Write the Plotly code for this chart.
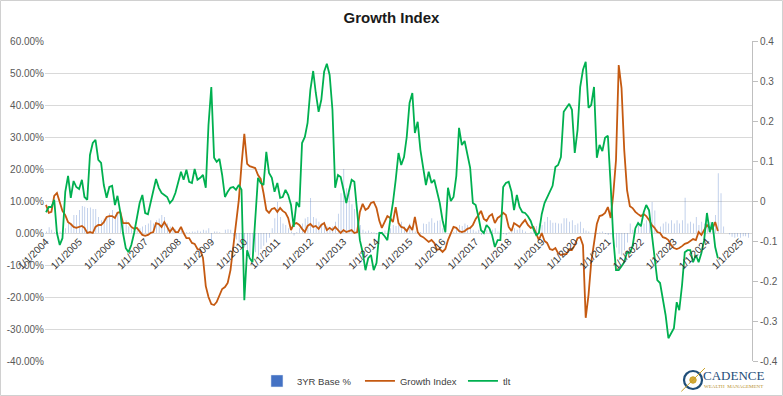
import plotly.graph_objects as go
import pandas as pd

# ---------------- data ----------------
start_month = "2004-01-01"

# 3YR Base % (monthly, percent)
base_3yr = [
    0.5, 1.8, 1.0, 0.3, 0.2, 0.5, 0.8, 1.5, 3.2, 2.5, 5.6, 5.6,
    7.2, 8.4, 8.2, 7.8, 8.0, 7.5, 7.5, 5.0, 4.0, 4.5, 5.0, 6.2,
    7.2, 5.6, 6.2, 5.0, 3.0, 4.0, 2.0, 1.5, 1.0, 0.8, 1.5, 2.0,
    2.5, 3.0, 4.0, 3.0, 4.0, 4.5, 5.6, 5.0, 3.0, 2.0, 1.5, 1.2,
    1.0, 0.8, 0.5, 0.3, 0.2, 0.5, 0.4, 0.8, 0.5, 1.0, 0.8, 1.5,
    -2.2, 0.5, 0.5, 0.2, 0.0, 1.0, 1.2, 1.0, -1.0, -2.0, -3.0, -4.0,
    -4.5, -5.5, -7.0, -7.5, -6.0, -7.0, -5.0, -4.0, -3.0, -1.5, 1.5, 4.6,
    9.7, 5.0, 3.0, 2.5, 1.5, 0.5, -0.8, 0.3, 1.5, 3.0, 4.5, 5.0,
    10.9, 5.0, 4.5, 3.5, 3.0, 3.5, 2.0, 1.5, 2.0, 3.5, 6.0, 12.4,
    20.0, 14.0, 12.5, 9.0, 7.5, 4.0, 2.5, 1.0, 0.5, 0.8, 0.3, 0.2,
    -0.5, 0.5, 0.5, 0.8, -2.0, 1.5, 2.5, 2.2, 2.5, 3.5, 2.0, 1.5,
    3.0, 2.0, 0.5, 0.2, 0.3, 3.0, 2.8, 3.5, 4.6, 3.2, 3.8, 4.0,
    1.5, 0.5, 0.0, 0.2, 0.4, 1.1, 2.5, 2.2, 3.0, 2.5, 1.5, 1.0,
    0.5, 1.0, -0.6, 0.3, 1.0, 1.5, 1.0, 1.5, 0.5, 0.1, -0.3, -0.6,
    0.3, 1.0, 1.5, 1.0, 1.8, 1.0, 0.5, 0.0, 0.3, 1.0, 2.2, 3.0,
    2.5, 3.5, 5.0, 4.0, 3.2, 3.2, 3.0, 3.0, 4.6, 4.6, 3.5, 4.0,
    2.5, 3.0, 3.5, 1.5, 0.8, 0.5, 0.0, -0.3, -0.3, 0.2, 0.5, -0.3,
    -0.6, -0.5, -2.0, -4.5, -6.5, -7.0, -5.5, -3.0, 3.0, 1.0, 2.0, 3.5,
    2.5, 3.0, 4.0, 5.0, 9.7, 7.0, 1.0, 2.0, 3.0, 3.5, 3.0, 4.0,
    3.0, 4.0, 3.0, 4.0, 11.0, 3.0, 3.5, 3.0, 5.0, 2.5, 3.5, 3.0,
    2.0, 3.5, 1.0, 5.6, 18.7, 12.4, 2.0, 0.0, -0.5, -1.2, -1.5, -1.2,
    -1.5, -1.0, -1.0, -1.5,
]

# Growth Index (monthly, percent, left axis)
growth_index = [
    8.8, 6.3, 6.6, 11.6, 12.5, 9.7, 6.9, 5.6, 3.4, 2.8, 1.9, 1.6,
    1.9, 2.2, 1.6, 0.0, 0.3, 0.0, 1.9, 2.5, 2.5, 3.4, 5.0, 5.3,
    5.3, 4.7, 6.3, 6.6, 3.1, 3.1, 3.1, 1.9, 1.3, 1.6, 0.6, -0.6,
    -0.9, -0.6, 0.0, 0.3, 3.1, 2.8, 1.9, 3.4, 1.9, 0.3, 1.6, 0.3,
    0.3, 1.9, 0.0, -1.6, -1.6, -3.1, -3.4, -5.0, -5.3, -7.8, -16.6, -20.0,
    -22.2, -22.5, -21.6, -19.4, -17.5, -16.9, -15.6, -11.6, -4.7, 3.1, 10.3, 21.3,
    31.0, 21.6, 20.9, 20.6, 20.3, 18.1, 16.9, 12.5, 7.2, 6.3, 7.5, 7.8,
    6.6, 7.8, 6.9, 6.3, 4.7, 0.9, 2.8, 3.1, 2.5, 1.3, 0.3, 2.2,
    2.8, 1.9, 2.2, 1.3, 2.5, 3.1, 0.9, 1.6, 0.9, 1.9, 0.9, 0.0,
    0.9, 0.3, 0.6, 0.9, 0.0, 0.3, 6.6, 9.1, 7.2, 7.8, 9.4, 9.7,
    7.8, 3.8, 1.6, 3.4, 5.3, 4.7, 3.4, 8.1, 3.1, 1.9, 1.6, 0.6,
    2.2, 0.9, 5.0, 0.3, -0.9, -1.3, -1.9, -2.8, -2.2, -3.1, -5.3, -5.0,
    -5.9, -5.0, -2.2, 0.0, 1.9, 1.6, 0.6, 0.3, 0.6, 1.3, 1.6, 2.5,
    4.4, 5.6, 6.9, 4.4, 3.8, 5.3, 5.9, 3.1, 4.7, 5.3, 6.3, 5.6,
    1.9, 0.6, 3.1, 2.5, 1.9, 3.1, 4.1, 2.5, 1.6, 1.9, -0.3, -2.2,
    0.0, -2.5, -3.1, -5.0, -5.3, -4.7, -6.3, -6.9, -6.6, -6.6, -5.0, -5.3,
    -3.8, -1.6, -1.3, -3.8, -26.5, -19.4, -9.1, -3.1, 2.8, 5.3, 5.6, 6.3,
    8.1, 4.7, 11.9, 22.8, 52.5, 45.3, 25.9, 13.4, 8.4, 7.8, 6.6, 5.9,
    5.3, 5.9, 5.3, 4.1, 2.5, 1.6, 0.3, 0.0, -1.3, -1.6, -2.2, -3.8,
    -4.7, -5.0, -4.7, -4.1, -3.4, -3.1, -2.5, -1.9, -2.2, 0.3, -0.6, 0.9,
    2.5, 1.6, 1.3, 3.4, 0.6,
]

# tlt (monthly, right axis)
tlt = [
    -0.028, -0.015, -0.015, 0.003, -0.080, -0.110, -0.093, 0.023, 0.063, 0.008, 0.050, 0.035,
    0.030, 0.053, 0.010, 0.003, 0.115, 0.145, 0.153, 0.103, 0.095, 0.040, 0.008, 0.035,
    0.038, -0.010, 0.013, -0.028, -0.080, -0.118, -0.128, -0.110, -0.080, -0.040, -0.005, 0.015,
    -0.030, -0.033, -0.005, 0.023, 0.055, 0.033, 0.020, 0.015, 0.010, -0.005, 0.003, 0.020,
    0.045, 0.073, 0.053, 0.078, 0.048, 0.045, 0.080, 0.053, 0.058, 0.065, 0.033, 0.190,
    0.285, 0.108, 0.098, 0.105, 0.065, 0.010, 0.023, 0.033, 0.035, 0.028, 0.040, 0.028,
    -0.248, -0.123, -0.143, -0.153, -0.048, 0.058, 0.045, 0.040, 0.123, 0.070, 0.058, 0.023,
    0.045, 0.008, 0.010, 0.028, 0.015, -0.010, -0.065, -0.003, -0.015, 0.145, 0.160, 0.195,
    0.278, 0.325, 0.270, 0.223, 0.253, 0.323, 0.343, 0.315, 0.228, 0.033, 0.065, 0.060,
    0.028, -0.005, 0.023, 0.053, 0.048, -0.035, -0.098, -0.128, -0.173, -0.143, -0.135, -0.173,
    -0.155, -0.080, -0.080, -0.088, -0.098, -0.048, -0.005, 0.053, 0.120, 0.090, 0.110, 0.160,
    0.245, 0.270, 0.170, 0.198, 0.128, 0.083, 0.040, 0.073, 0.045, 0.053, 0.020, -0.005,
    -0.048, -0.078, 0.033, 0.000, 0.010, 0.063, 0.183, 0.140, 0.150, 0.115, 0.083, -0.005,
    -0.010, -0.040, -0.073, -0.080, -0.060, -0.068, -0.085, -0.115, -0.098, -0.098, 0.035, 0.045,
    0.048, 0.023, -0.023, 0.015, -0.015, -0.028, -0.030, -0.038, -0.050, -0.070, -0.085, -0.080,
    -0.033, -0.005, 0.010, 0.023, 0.038, 0.085, 0.090, 0.110, 0.223, 0.233, 0.243, 0.228,
    0.120, 0.178, 0.285, 0.328, 0.348, 0.233, 0.240, 0.285, 0.108, 0.140, 0.125, 0.158,
    0.163, 0.040, -0.090, -0.173, -0.173, -0.163, -0.153, -0.128, -0.130, -0.113, -0.068, -0.055,
    -0.063, -0.028, -0.010, -0.023, -0.080, -0.143, -0.198, -0.205, -0.248, -0.285, -0.343, -0.330,
    -0.318, -0.253, -0.273, -0.210, -0.128, -0.123, -0.123, -0.153, -0.135, -0.153, -0.130, -0.098,
    -0.030, -0.078, -0.053, -0.115, -0.143,
]

left_ticks = [-40, -30, -20, -10, 0, 10, 20, 30, 40, 50, 60]
left_labels = ["-40.00%", "-30.00%", "-20.00%", "-10.00%", "0.00%", "10.00%",
               "20.00%", "30.00%", "40.00%", "50.00%", "60.00%"]
right_ticks = [-0.4, -0.3, -0.2, -0.1, 0, 0.1, 0.2, 0.3, 0.4]
right_labels = ["-0.4", "-0.3", "-0.2", "-0.1", "0", "0.1", "0.2", "0.3", "0.4"]

# ---------------- figure ----------------
dates = pd.date_range(start_month, periods=len(base_3yr), freq="MS")
line_dates = dates[:len(growth_index)]

BLUE = "#4472C4"
ORANGE = "#C55A11"
GREEN = "#00B050"

fig = go.Figure()
# legend swatch for bars (solid colour, like the reference legend)
fig.add_trace(go.Bar(x=[dates[0]], y=[None], name="3YR Base %",
                     marker_color=BLUE, yaxis="y", hoverinfo="skip"))
fig.add_trace(go.Bar(x=dates, y=base_3yr, name="3YR Base %",
                     marker=dict(color="rgba(68,114,196,0.5)", line=dict(width=0)),
                     showlegend=False, yaxis="y"))
fig.add_trace(go.Scatter(x=line_dates, y=growth_index, name="Growth Index",
                         mode="lines", line=dict(color=ORANGE, width=1.8), yaxis="y"))
fig.add_trace(go.Scatter(x=line_dates, y=tlt, name="tlt",
                         mode="lines", line=dict(color=GREEN, width=1.8), yaxis="y2"))

FONT = "Liberation Sans, Arial, sans-serif"

fig.update_layout(
    width=783, height=396,
    margin=dict(l=45, r=31, t=41, b=35, autoexpand=False),
    paper_bgcolor="white", plot_bgcolor="white",
    font=dict(family=FONT, size=10, color="#595959"),
    title=dict(text="<b>Growth Index</b>", x=0.5, xref="container", xanchor="center",
               y=0.955, yref="container", yanchor="middle",
               font=dict(family=FONT, size=15, color="#1a1a1a")),
    bargap=0.5,
    showlegend=True,
    legend=dict(orientation="h", x=0.5255, xref="container", xanchor="center",
                y=0.038, yref="container", yanchor="middle",
                font=dict(family=FONT, size=9.5, color="#404040"),
                traceorder="normal", itemwidth=30,
                entrywidth=58, entrywidthmode="pixels",
                tracegroupgap=0),
    xaxis=dict(type="date", range=["2003-12-21", "2025-05-13"],
               tick0="2004-01-01", dtick="M12", tickformat="%-m/%-d/%Y",
               tickangle=-45, anchor="free", position=0.4, automargin=False,
               showgrid=False, showline=False, zeroline=False, ticks="",
               tickfont=dict(family=FONT, size=10, color="#333333")),
    yaxis=dict(range=[-40, 60], tickvals=left_ticks, ticktext=left_labels,
               showgrid=True, gridcolor="#d9d9d9", gridwidth=1.3, automargin=False,
               zeroline=False, showline=False, ticks="", domain=[0, 1],
               tickfont=dict(family=FONT, size=10, color="#595959")),
    yaxis2=dict(overlaying="y", side="right", range=[-0.4, 0.4],
                tickvals=right_ticks, ticktext=right_labels, automargin=False,
                showgrid=False, zeroline=False, showline=True, linecolor="#bfbfbf",
                ticks="outside", ticklen=5, tickcolor="#bfbfbf",
                tickfont=dict(family=FONT, size=10, color="#595959")),
)

# outer chart border
fig.add_shape(type="rect", xref="paper", yref="paper",
              x0=-0.0629, x1=1.0431, y0=-0.1078, y1=1.1266,
              line=dict(color="#d0d0d0", width=1), fillcolor="rgba(0,0,0,0)", layer="below")

# logo: compass circle
fig.add_shape(type="circle", xref="paper", yref="paper",
              x0=0.9038, x1=0.9293, y0=-0.0875, y1=-0.0313,
              line=dict(color="#1f4e79", width=2.2), fillcolor="white")
fig.add_shape(type="circle", xref="paper", yref="paper",
              x0=0.9120, x1=0.9211, y0=-0.0695, y1=-0.0493,
              line=dict(color="#c9a227", width=1), fillcolor="#d4a93a")
fig.add_shape(type="line", xref="paper", yref="paper",
              x0=0.9000, x1=0.9335, y0=-0.095, y1=-0.022,
              line=dict(color="#c9a227", width=1))
fig.add_annotation(text="CADENCE", xref="paper", yref="paper", x=0.9745, y=-0.046,
                   xanchor="center", yanchor="middle", showarrow=False,
                   font=dict(family="Liberation Serif, DejaVu Serif, serif", size=13, color="#1f4e79"))
fig.add_annotation(text="WEALTH  MANAGEMENT", xref="paper", yref="paper", x=0.9745, y=-0.079,
                   xanchor="center", yanchor="middle", showarrow=False,
                   font=dict(family="Liberation Serif, DejaVu Serif, serif", size=5, color="#b8912f"))

fig.write_html("out.html", config={"displayModeBar": False},
               post_script="document.body.style.margin='0px';")
